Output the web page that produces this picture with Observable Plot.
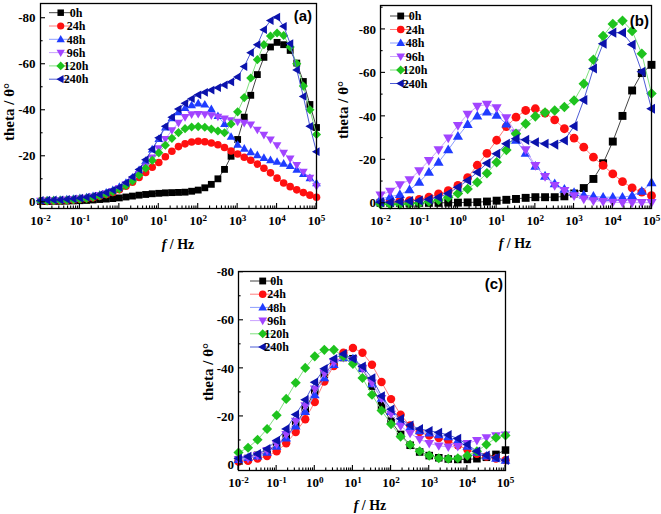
<!DOCTYPE html>
<html><head><meta charset="utf-8">
<script src="https://cdn.jsdelivr.net/npm/d3@7"></script>
<script src="https://cdn.jsdelivr.net/npm/@observablehq/plot@0.6"></script>
<style>
body{margin:0;background:#fff;}
#fig{position:relative;width:661px;height:514px;overflow:hidden;background:#fff;}
#fig svg{position:absolute;overflow:visible;}
</style></head><body><div id="fig"></div>
<script>
// ---------- data ----------
const seriesNames = ["0h","24h","48h","96h","120h","240h"];
const markColors = ["#000000","#ff1010","#1f3cff","#a244ff","#1ec31e","#0b12ac"];
const lineColors = ["#444444","#ff7d7d","#8c9dff","#caa2ff","#7fe07f","#4d5cd6"];

const freqA = [0.01,0.0147,0.0215,0.0316,0.0464,0.0681,
  0.1,0.147,0.215,0.316,0.464,0.681,
  1,1.47,2.15,3.16,4.64,6.81,
  10,14.7,21.5,31.6,46.4,68.1,
  100,147,215,316,464,681,
  1000,1470,2150,3160,4640,6810,
  10000,14700,21500,31600,46400,68100,100000];
const freqBC = [0.01,0.0178,0.0316,0.0562,0.1,0.178,0.316,0.562,1,1.78,3.16,5.62,10,17.8,31.6,56.2,
  100,178,316,562,1000,1780,3160,5620,10000,17800,31600,56200,100000];

// panel (a)
const a0h = [-0.3,-0.3,-0.4,-0.4,-0.5,-0.6, -0.7,-0.8,-1.0,-1.2,-1.4,-1.6, -1.9,-2.3,-2.7,-3.1,-3.4,-3.7,
  -3.9,-4.1,-4.2,-4.3,-4.4,-4.8, -5.3,-6.3,-7.8,-10.2,-14.3,-20, -27.3,-37,-46.5,-55.5,-63,-67.5,
  -69.5,-68.5,-66,-60.5,-52.5,-42.5,-32.5];
const a24h = [-0.5,-0.5,-0.6,-0.7,-0.8,-1.0, -1.3,-1.6,-2.0,-2.6,-3.4,-4.3, -5.5,-7.0,-8.7,-10.8,-13.0,-15.2,
  -17.3,-19.8,-22.2,-24.2,-25.4,-26.2, -26.5,-26.3,-25.8,-25,-23.8,-22.3, -21,-19.6,-18.3,-16.6,-14.8,-12.8,
  -10.5,-8.4,-6.8,-5.4,-4.2,-3.1,-2.2];
const a48h = [-0.8,-0.9,-1.0,-1.1,-1.3,-1.5, -1.8,-2.2,-2.7,-3.3,-4.2,-5.3, -6.7,-8.5,-10.8,-14,-18,-23,
  -27.5,-32.5,-36.5,-39.2,-41,-42.2, -43,-42.5,-40.5,-37.5,-34,-28.5, -25,-23.3,-21.8,-20.5,-19.3,-18.3,
  -17.6,-16.8,-15.8,-14.2,-12.3,-10.5,-8.3];
const a96h = [-0.7,-0.8,-0.9,-1.0,-1.2,-1.4, -1.7,-2.0,-2.5,-3.1,-3.9,-4.9, -6.2,-7.8,-9.8,-12.3,-15.5,-19.5,
  -23.5,-27.5,-31.3,-34.5,-37,-38.2, -38.4,-38.2,-37.8,-37.2,-36.4,-35.6, -35,-34.5,-33.8,-31.5,-29.3,-27.3,
  -24.8,-21.5,-19,-16.2,-13.3,-10.6,-7];
const a120h = [-0.6,-0.6,-0.7,-0.8,-0.9,-1.1, -1.4,-1.7,-2.2,-2.8,-3.6,-4.6, -5.8,-7.3,-9.3,-11.8,-14.8,-18.2,
  -21.5,-24.8,-27.8,-30.3,-32,-32.7, -32.9,-32.6,-31.8,-31,-30.2,-34, -39.3,-45.5,-54,-62,-68.5,-72.3,
  -73.6,-72.5,-67.5,-60.2,-50.5,-40.2,-29.5];
const a240h = [-0.8,-0.9,-1.0,-1.1,-1.3,-1.5, -1.8,-2.2,-2.7,-3.3,-4.2,-5.3, -6.5,-8.5,-11,-14.3,-18.5,-23,
  -28,-33,-37,-40.5,-43,-45, -46.7,-47.8,-48.8,-49.8,-51,-52.3, -54.5,-59,-65,-68.5,-75,-79,
  -80.5,-76.5,-69,-57.5,-46,-33,-22];

// panel (b)
const b0h = [-0.2,-0.2,-0.2,-0.2,-0.2,-0.2,-0.2,-0.3,-0.3,-0.4,-0.5,-0.8,-1.2,-1.6,-2.0,-2.5,
  -2.8,-2.8,-2.8,-3.2,-4.5,-7.0,-11.2,-18.4,-28.4,-40.2,-51.9,-59.9,-63.7];
const b24h = [-0.5,-0.6,-0.9,-1.2,-1.8,-2.8,-4.3,-5.8,-8.2,-11.8,-17.5,-23,-29,-35.3,-39.6,-42.7,
  -43.5,-41.5,-38.4,-34.3,-30,-25.8,-21.2,-17.4,-13.5,-10,-7.1,-5.1,-3.5];
const b48h = [-2,-3,-4,-6.2,-9.7,-14.3,-18.9,-24.6,-30.8,-36.3,-40.2,-42,-40.5,-36.5,-29,-23,
  -17,-12.5,-9,-6.5,-5,-3.8,-3.2,-2.8,-2.8,-2.8,-3.5,-5.5,-9.5];
const b96h = [-3.8,-5.5,-8.5,-10.8,-15,-19.7,-24.6,-30,-35.8,-41,-44.6,-45.5,-44,-39.4,-32.3,-24.6,
  -17.4,-12.3,-8.2,-5.9,-3.5,-2,-1.2,-0.8,-0.5,-0.3,-0.3,-0.3,-0.3];
const b120h = [0.3,0.5,0.4,0.2,0,-0.8,-1.5,-2.8,-4.5,-6.6,-9.7,-13.8,-18.9,-24.5,-32,-36.6,
  -40,-41.8,-42.7,-44.3,-47.3,-55,-66,-77,-82.5,-84,-79.3,-68.8,-50.5];
const b240h = [-0.5,-0.5,-0.8,-1,-1.3,-1.8,-2.8,-4.5,-7.4,-10.5,-14.3,-18.4,-22.8,-27.4,-29.7,-29.2,
  -28.1,-27.4,-27,-28.9,-35.5,-47.5,-62,-73.4,-78.5,-78.5,-73,-60.5,-43.5];

// panel (c)
const c0h = [-2,-2.5,-3.8,-5.5,-8,-11.5,-16.5,-23,-30.5,-37.5,-42.5,-44.5,-44,-40,-32.6,-24.5,
  -18,-12.5,-8,-5.2,-3.7,-2.8,-2.3,-2.1,-2.1,-2.4,-3,-4.2,-6];
const c24h = [-1.2,-1.5,-2.5,-3.5,-5.5,-8.8,-13.5,-18.8,-26,-34.5,-41,-46.5,-48.5,-46.5,-41.5,-34.3,
  -27.2,-20.7,-16.2,-13.5,-12,-11,-10,-8,-6.2,-4.5,-3.3,-2.5,-1.8];
const c48h = [-2,-2.8,-3.5,-5,-7.5,-11,-16,-22,-29,-36,-41.5,-44.5,-44,-40,-33.5,-27.5,
  -22,-18,-15.5,-14,-13,-12.3,-11.5,-10,-7.5,-5,-3.5,-2.5,-1.7];
const c96h = [-2,-2.5,-3.8,-5.8,-8.5,-12.5,-18,-24.5,-31.5,-38,-42.5,-44.5,-43.5,-40,-34,-27.5,
  -21,-16,-13,-10.5,-8.8,-7.8,-7.3,-7.5,-8.8,-10,-11.2,-12,-12.3];
const c120h = [-5,-7,-10.3,-14.8,-20.5,-27.3,-34,-40.2,-45,-47.7,-47.7,-45,-41.8,-36,-29,-22.5,
  -16.8,-11.6,-8.2,-5.5,-3.7,-2.6,-2.4,-2.6,-3.7,-5.5,-8.3,-11.1,-12.1];
const c240h = [-2.5,-3.3,-4.4,-6.5,-10,-14.8,-20.8,-26.9,-34.2,-39.8,-44,-46,-44,-40.8,-36,-28.5,
  -23,-19,-16.3,-14.8,-14,-13.3,-12.3,-10.8,-8.3,-5.5,-3.8,-2.8,-1.8];

// ticks
const xMajor = [0.01,0.1,1,10,100,1000,10000,100000];
const yMajor = [0,-20,-40,-60,-80];
const yMinor = [-10,-30,-50,-70,-90];
const panelLabels = ["(a)","(b)","(c)"];
const yTitle = "theta / θ°";

// ---------- symbols ----------
function poly(pts){return {draw(ctx,size){const r=Math.sqrt(size/Math.PI);
  ctx.moveTo(pts[0][0]*r,pts[0][1]*r);for(let i=1;i<pts.length;i++)ctx.lineTo(pts[i][0]*r,pts[i][1]*r);ctx.closePath();}};}
const symbols = [
  poly([[-0.9,-0.9],[0.9,-0.9],[0.9,0.9],[-0.9,0.9]]),
  {draw(ctx,size){const r=Math.sqrt(size/Math.PI);ctx.moveTo(r,0);ctx.arc(0,0,r,0,2*Math.PI);ctx.closePath();}},
  poly([[0,-1.2],[1.15,0.8],[-1.15,0.8]]),
  poly([[0,1.2],[1.15,-0.8],[-1.15,-0.8]]),
  poly([[0,-1.2],[1.2,0],[0,1.2],[-1.2,0]]),
  poly([[-1.2,0],[0.8,-1.15],[0.8,1.15]])
];

const xMinor = [];
for (let e=-2;e<5;e++) for (let m=2;m<10;m++) xMinor.push(m*Math.pow(10,e));

const serif = "Liberation Serif, Times New Roman, serif";
const fig = document.getElementById("fig");

function panel(cfg){
  const marks = [];
  cfg.series.forEach((vals,i)=>{
    const d = vals.map((v,j)=>({f:cfg.freq[j],theta:v}));
    marks.push(Plot.line(d,{x:"f",y:"theta",stroke:lineColors[i],strokeWidth:1}));
    marks.push(Plot.dot(d,{x:"f",y:"theta",symbol:symbols[i],r:cfg.r,fill:markColors[i],stroke:"none"}));
  });
  marks.push(Plot.axisX({ticks:xMajor,tickSize:0,tickPadding:cfg.xPad,
    tickFormat:d=>"10^"+Math.round(Math.log10(d)),fontSize:13,fontWeight:"bold",fill:"#000",label:null}));
  marks.push(Plot.axisY({ticks:yMajor,tickSize:0,tickPadding:cfg.yPad,
    tickFormat:d=>String(d),fontSize:13,fontWeight:"bold",fill:"#000",label:null}));
  marks.push(Plot.frame({stroke:"#000",strokeWidth:1.3}));
  const p = Plot.plot({
    width:cfg.width,height:cfg.height,
    marginTop:cfg.m[0],marginRight:cfg.m[1],marginBottom:cfg.m[2],marginLeft:cfg.m[3],
    x:{type:"log",domain:[0.01,100000],axis:null},
    y:{domain:cfg.yDomain,axis:null},
    style:{fontFamily:serif,background:"transparent",overflow:"visible"},
    marks
  });
  p.style.left = cfg.left+"px"; p.style.top = cfg.top+"px";
  fig.appendChild(p);
  const svg = d3.select(p);
  svg.selectAll("text").attr("font-family",serif);
  // superscript tick labels
  svg.selectAll('g[aria-label="x-axis tick label"] text').each(function(){
    const s = this.textContent; const parts = s.split("^");
    if (parts.length!==2) return;
    const t = d3.select(this); t.text(null);
    t.append("tspan").text(parts[0]);
    t.append("tspan").attr("dy","-0.42em").attr("font-size","0.7em").text(parts[1]);
  });
  const sx = p.scale("x"), sy = p.scale("y");
  const xl = sx.range[0], yb = sy.range[0];
  const g = svg.append("g").attr("stroke","#000").attr("stroke-width",1.1);
  xMajor.forEach(v=>{const x=sx.apply(v);g.append("line").attr("x1",x).attr("x2",x).attr("y1",yb).attr("y2",yb-5);});
  xMinor.forEach(v=>{const x=sx.apply(v);g.append("line").attr("x1",x).attr("x2",x).attr("y1",yb).attr("y2",yb-2.6);});
  yMajor.forEach(v=>{const y=sy.apply(v);g.append("line").attr("x1",xl).attr("x2",xl+5).attr("y1",y).attr("y2",y);});
  yMinor.forEach(v=>{if(v<Math.min(...cfg.yDomain))return;const y=sy.apply(v);g.append("line").attr("x1",xl).attr("x2",xl+2.6).attr("y1",y).attr("y2",y);});
  // axis titles
  svg.append("text").attr("transform",`translate(${cfg.yt[0]},${cfg.yt[1]}) rotate(-90)`)
    .attr("text-anchor","middle").attr("font-size",15).attr("font-weight","bold").attr("font-family",serif).text(yTitle);
  const xt = svg.append("text").attr("x",cfg.xt[0]).attr("y",cfg.xt[1]).attr("text-anchor","middle")
    .attr("font-size",14).attr("font-weight","bold").attr("font-family",serif);
  xt.append("tspan").attr("font-style","italic").text("f");
  xt.append("tspan").text(" / Hz");
  // panel label
  svg.append("text").attr("x",cfg.pl[0]).attr("y",cfg.pl[1]).attr("text-anchor","end")
    .attr("font-family","Liberation Sans, Arial, sans-serif").attr("font-weight","bold").attr("font-size",15).text(cfg.label);
  // legend
  const lg = svg.append("g");
  seriesNames.forEach((n,i)=>{
    const y = cfg.lg.y0 + cfg.lg.dy*i;
    lg.append("line").attr("x1",cfg.lg.x0).attr("x2",cfg.lg.x1).attr("y1",y).attr("y2",y).attr("stroke",lineColors[i]).attr("stroke-width",1);
    lg.append("path").attr("d",d3.symbol(symbols[i],Math.PI*cfg.lg.r*cfg.lg.r)()).attr("transform",`translate(${cfg.lg.xm},${y})`).attr("fill",markColors[i]);
    lg.append("text").attr("x",cfg.lg.xt).attr("y",y).attr("dy","0.35em").attr("font-family",serif)
      .attr("font-weight","bold").attr("font-size",12).text(n);
  });
}

panel({left:0,top:0,width:330,height:250,m:[3,14,42,40],yDomain:[2.7,-86.4],freq:freqA,
  series:[a0h,a24h,a48h,a96h,a120h,a240h],r:3.8,xPad:7,yPad:5,
  yt:[14,112],xt:[178,249],pl:[312,20.5],label:panelLabels[0],
  lg:{x0:49,x1:72,xm:60.7,xt:76,y0:12.7,dy:13.3,r:3.6}});
panel({left:330,top:0,width:331,height:250,m:[5,10,42,50],yDomain:[2.4,-91],freq:freqBC,
  series:[b0h,b24h,b48h,b96h,b120h,b240h],r:4.4,xPad:7,yPad:4.5,
  yt:[18,110],xt:[185,248],pl:[319,25.5],label:panelLabels[1],
  lg:{x0:60,x1:82,xm:70.7,xt:85,y0:16,dy:13.5,r:3.8}});
panel({left:170,top:255,width:350,height:259,m:[16,15,44,68],yDomain:[2.5,-80.3],freq:freqBC,
  series:[c0h,c24h,c48h,c96h,c120h,c240h],r:4.2,xPad:7,yPad:4.5,
  yt:[43,117],xt:[200,255],pl:[333,34],label:panelLabels[2],
  lg:{x0:80,x1:105,xm:92.7,xt:106.7,y0:26,dy:13.2,r:3.8}});
</script></body></html>
